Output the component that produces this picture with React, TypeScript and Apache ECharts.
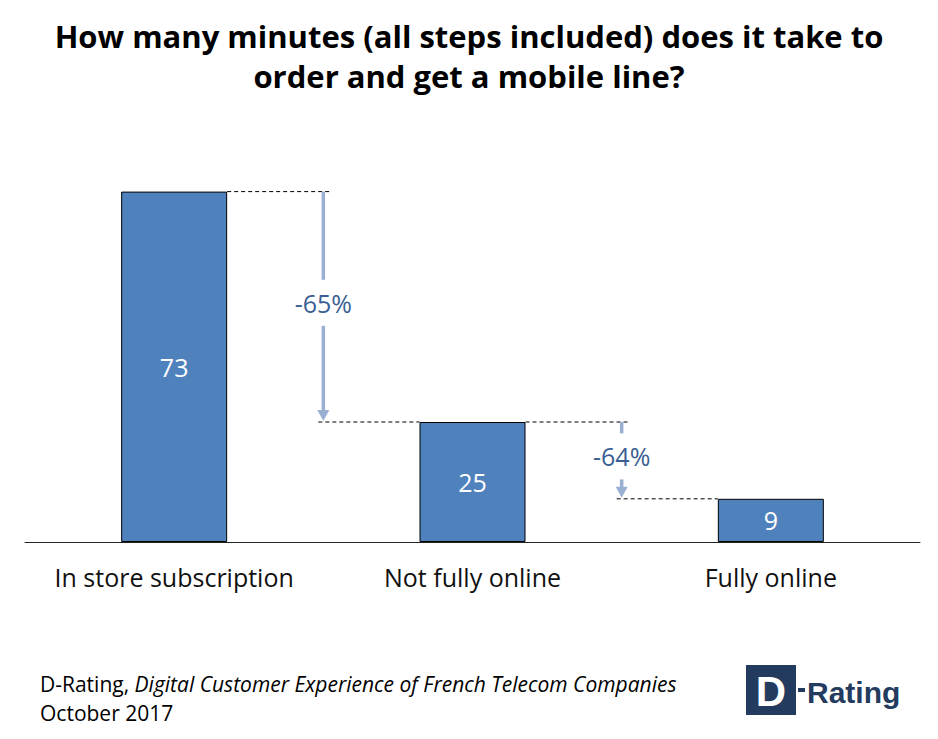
import React, { useEffect, useRef } from "react";
import * as echarts from "echarts";

const categories = ["In store subscription", "Not fully online", "Fully online"];
const minutes = [73, 25, 9];
const changes = ["-65%", "-64%"];
const titleLines = [
  "How many minutes (all steps included) does it take to",
  "order and get a mobile line?",
];
const sourceOrg = "D-Rating, ";
const sourceTitle = "Digital Customer Experience of French Telecom Companies";
const sourceDate = "October 2017";

const FONT = "'Open Sans', Lato, sans-serif";
const BAR_W = 106;
const ARROW_COLOR = "#9AB0D3";
const PCT_COLOR = "#3B5F92";
const NAVY = "#233B5E";

export default function App() {
  const ref = useRef<HTMLDivElement>(null);
  useEffect(() => {
    const chart = echarts.init(ref.current!, null, { renderer: "svg" });
    chart.setOption({
      animation: false,
      backgroundColor: "#fff",
      title: {
        text: titleLines.join("\n"),
        left: "center",
        top: 11,
        textStyle: {
          fontFamily: FONT,
          fontSize: 31,
          fontWeight: "bold",
          color: "#000",
          lineHeight: 40,
        },
      },
      grid: { left: 25, right: 18, top: 158, bottom: 197 },
      xAxis: {
        type: "category",
        data: categories,
        axisLine: { lineStyle: { color: "#222", width: 1 } },
        axisTick: { show: false },
        axisLabel: {
          interval: 0,
          hideOverlap: false,
          margin: 22,
          fontFamily: FONT,
          fontSize: 25,
          color: "#111",
        },
      },
      yAxis: {
        type: "value",
        min: 0,
        max: 80,
        show: false,
        splitLine: { show: false },
      },
      series: [
        {
          type: "bar",
          data: minutes,
          barWidth: BAR_W,
          itemStyle: { color: "#4F81BD", borderColor: "#000", borderWidth: 1 },
          label: {
            show: true,
            position: "inside",
            color: "#fff",
            fontFamily: FONT,
            fontSize: 25,
          },
        },
      ],
    });

    const half = BAR_W / 2;
    const g: any[] = [];
    for (let i = 0; i < changes.length; i++) {
      const [xa, ya] = chart.convertToPixel({ gridIndex: 0 }, [i, minutes[i]]);
      const [xb, yb] = chart.convertToPixel({ gridIndex: 0 }, [i + 1, minutes[i + 1]]);
      const ax = (xa + half + xb - half) / 2;
      const dash = { stroke: "#000", lineWidth: 1, lineDash: [4, 3] };
      g.push({ type: "line", shape: { x1: xa + half, y1: ya, x2: ax + 7, y2: ya }, style: dash });
      g.push({ type: "line", shape: { x1: ax - 5, y1: yb, x2: xb - half, y2: yb }, style: dash });
      const tc = (ya + yb) / 2 - 4;
      const gap = 23;
      g.push({
        type: "line",
        shape: { x1: ax, y1: ya, x2: ax, y2: tc - gap },
        style: { stroke: ARROW_COLOR, lineWidth: 3.5 },
      });
      g.push({
        type: "line",
        shape: { x1: ax, y1: tc + gap, x2: ax, y2: yb - 11 },
        style: { stroke: ARROW_COLOR, lineWidth: 3.5 },
      });
      g.push({
        type: "polygon",
        shape: { points: [[ax - 6, yb - 12], [ax + 6, yb - 12], [ax, yb - 1]] },
        style: { fill: ARROW_COLOR },
      });
      g.push({
        type: "text",
        x: ax,
        y: tc,
        style: {
          text: changes[i],
          fill: PCT_COLOR,
          fontFamily: FONT,
          fontSize: 25,
          align: "center",
          verticalAlign: "middle",
        },
      });
    }
    // footer
    g.push({
      type: "text",
      left: 40,
      top: 669,
      style: {
        text: sourceOrg + "{i|" + sourceTitle + "}\n" + sourceDate,
        fill: "#000",
        fontFamily: FONT,
        fontSize: 21,
        lineHeight: 29,
        rich: {
          i: { fontStyle: "italic", fontFamily: FONT, fontSize: 21, fill: "#000", lineHeight: 29 },
        },
      },
    });
    // logo
    g.push({ type: "rect", shape: { x: 746, y: 665, width: 50, height: 50 }, style: { fill: NAVY } });
    g.push({
      type: "text",
      x: 771,
      y: 691,
      style: {
        text: "D",
        fill: "#fff",
        fontFamily: "'Liberation Sans', Arial, sans-serif",
        fontWeight: "bold",
        fontSize: 42,
        align: "center",
        verticalAlign: "middle",
      },
    });
    g.push({ type: "rect", shape: { x: 798, y: 688, width: 7, height: 4 }, style: { fill: NAVY } });
    g.push({
      type: "text",
      x: 807,
      y: 692,
      style: {
        text: "Rating",
        fill: NAVY,
        fontFamily: "'Liberation Sans', Arial, sans-serif",
        fontWeight: "bold",
        fontSize: 30,
        align: "left",
        verticalAlign: "middle",
      },
    });
    chart.setOption({ graphic: g });
    return () => chart.dispose();
  }, []);
  return <div ref={ref} style={{ width: 938, height: 739, position: "absolute", left: 0, top: 0 }} />;
}
